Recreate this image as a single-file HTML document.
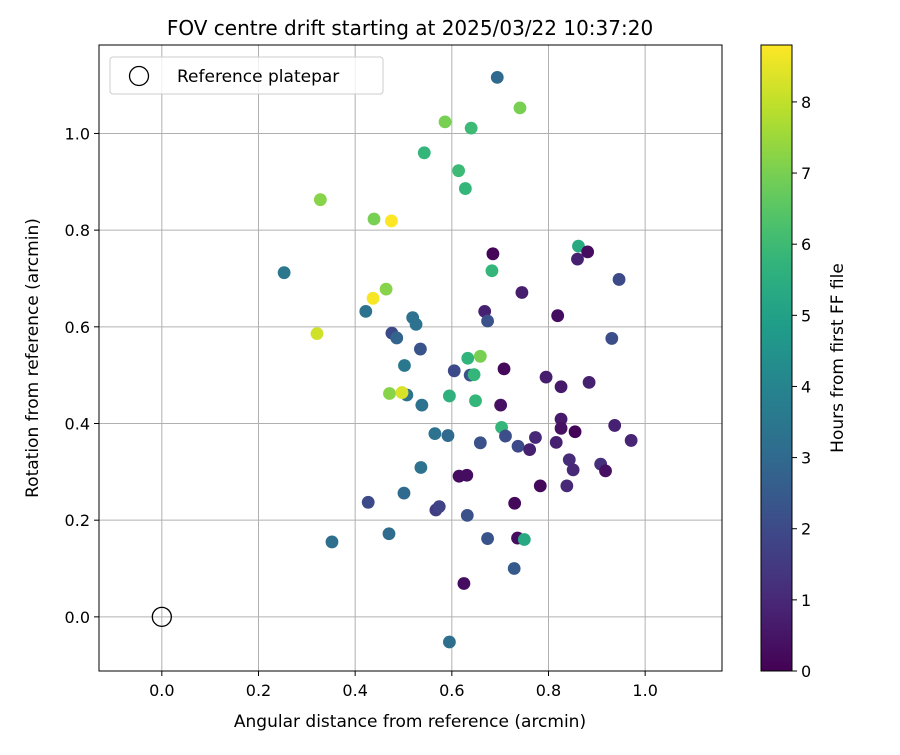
<!DOCTYPE html>
<html><head><meta charset="utf-8"><style>
body{margin:0;background:#fff;font-family:"Liberation Sans","DejaVu Sans",sans-serif}
svg text{font-family:"DejaVu Sans","Liberation Sans",sans-serif;fill:#000}
</style></head><body>
<svg id="chart" width="900" height="750" xmlns="http://www.w3.org/2000/svg"></svg>
<script>
const xs=[0.694,0.741,0.586,0.640,0.543,0.614,0.628,0.328,0.439,0.475,0.685,0.862,0.881,0.860,0.253,0.683,0.946,0.464,0.745,0.437,0.422,0.668,0.819,0.519,0.674,0.526,0.321,0.476,0.486,0.931,0.535,0.633,0.659,0.502,0.605,0.708,0.795,0.638,0.646,0.826,0.884,0.471,0.507,0.497,0.595,0.649,0.701,0.538,0.826,0.826,0.855,0.937,0.971,0.703,0.565,0.592,0.711,0.773,0.659,0.737,0.761,0.816,0.536,0.843,0.851,0.908,0.918,0.615,0.631,0.501,0.783,0.838,0.427,0.567,0.574,0.632,0.730,0.470,0.352,0.674,0.736,0.750,0.729,0.625,0.595];
const ys=[1.116,1.053,1.024,1.011,0.960,0.923,0.886,0.863,0.823,0.819,0.751,0.767,0.755,0.740,0.712,0.716,0.698,0.678,0.671,0.659,0.632,0.632,0.623,0.619,0.612,0.605,0.586,0.587,0.577,0.576,0.554,0.535,0.539,0.520,0.509,0.513,0.496,0.500,0.501,0.476,0.485,0.462,0.459,0.464,0.457,0.447,0.438,0.438,0.409,0.390,0.383,0.396,0.365,0.392,0.379,0.375,0.374,0.371,0.360,0.353,0.346,0.361,0.309,0.325,0.304,0.316,0.302,0.291,0.293,0.256,0.271,0.271,0.237,0.221,0.228,0.210,0.235,0.172,0.155,0.162,0.163,0.160,0.100,0.069,-0.052];
const hours=[3,7,7,6,5.8,6,5.8,7.2,7,8.8,0.1,5.3,0.3,0.8,3.5,5.8,2,7.2,0.7,8.7,3.3,0.8,0.3,3.3,2.2,3.3,8.2,2,2.8,2.1,2.3,5.7,7,3.5,2,0.2,0.7,2.2,5.8,0.6,0.8,7.2,3.3,8.3,5.6,5.8,0.4,3.3,0.6,0.4,0.1,0.8,0.9,5.8,3.3,3,2.1,1,2.2,2,0.8,0.8,3.3,1.1,1,1.2,0.4,0.3,0.3,3,0.2,1,2,1.6,1.8,2.2,0.2,3.1,3.2,2.3,0.3,5.3,2.5,0.3,3.2];
const xTicks=[0.0,0.2,0.4,0.6,0.8,1.0];
const yTicks=[0.0,0.2,0.4,0.6,0.8,1.0];
const cTicks=[0,1,2,3,4,5,6,7,8];
const L=99,R=722,T=45,B=671,X0=-0.130,X1=1.159,Y0=-0.112,Y1=1.183,HMAX=8.8;
const CL=761,CR=792;
const sx=v=>L+(v-X0)/(X1-X0)*(R-L);
const sy=v=>B-(v-Y0)/(Y1-Y0)*(B-T);
const sc=v=>B-v/HMAX*(B-T);
const vir=[[68,1,84],[72,40,120],[62,73,137],[49,104,142],[38,130,142],[31,158,137],[53,183,121],[109,205,89],[180,222,44],[253,231,37]];
function vcol(t){t=Math.max(0,Math.min(1,t))*(vir.length-1);const i=Math.min(Math.floor(t),vir.length-2),f=t-i;const c=vir[i].map((a,k)=>Math.round(a+(vir[i+1][k]-a)*f));return `rgb(${c[0]},${c[1]},${c[2]})`;}
const svg=document.getElementById('chart');const NS='http://www.w3.org/2000/svg';
function el(tag,attrs,parent){const e=document.createElementNS(NS,tag);for(const k in attrs)e.setAttribute(k,attrs[k]);(parent||svg).appendChild(e);return e;}
function txt(s,attrs){const e=el('text',attrs);e.textContent=s;return e;}
xTicks.forEach(v=>{const g=el('line',{x1:sx(v),x2:sx(v),y1:T,y2:B,stroke:'#b0b0b0','stroke-width':1});
 const t=el('line',{x1:sx(v),x2:sx(v),y1:B,y2:B+5,stroke:'#000'});
 const l=txt(v.toFixed(1),{x:sx(v),y:B+25,'font-size':16,'text-anchor':'middle'});});
yTicks.forEach(v=>{const g=el('line',{x1:L,x2:R,y1:sy(v),y2:sy(v),stroke:'#b0b0b0','stroke-width':1});
 const t=el('line',{x1:L-5,x2:L,y1:sy(v),y2:sy(v),stroke:'#000'});
 const l=txt(v.toFixed(1),{x:L-9,y:sy(v)+6,'font-size':16,'text-anchor':'end'});});
xs.forEach((x,i)=>{const c=el('circle',{cx:sx(x),cy:sy(ys[i]),r:6.4,fill:vcol(hours[i]/HMAX)});});
const ref=el('circle',{cx:sx(0),cy:sy(0),r:9.5,fill:'none',stroke:'#000','stroke-width':1.3});
const fr=el('rect',{x:L,y:T,width:R-L,height:B-T,fill:'none',stroke:'#000','stroke-width':1});
const lg=el('rect',{x:110,y:57,width:273,height:37,rx:3,fill:'#fff','fill-opacity':0.8,stroke:'#ccc'});
const lm=el('circle',{cx:139,cy:76,r:9.5,fill:'none',stroke:'#000','stroke-width':1.3});
const lt=txt('Reference platepar',{x:177,y:82,'font-size':17});
const ti=txt('FOV centre drift starting at 2025/03/22 10:37:20',{x:410,y:35,'font-size':20,'text-anchor':'middle'});
const xt=txt('Angular distance from reference (arcmin)',{x:410,y:727,'font-size':17,'text-anchor':'middle'});
const yt=txt('Rotation from reference (arcmin)',{x:0,y:0,'font-size':17,'text-anchor':'middle',transform:`translate(38,358) rotate(-90)`});
const defs=el('defs',{});const gr=el('linearGradient',{id:'vg',x1:0,y1:1,x2:0,y2:0},defs);
for(let k=0;k<=20;k++){el('stop',{offset:k/20,'stop-color':vcol(k/20)},gr);}
const cb=el('rect',{x:CL,y:T,width:CR-CL,height:B-T,fill:'url(#vg)',stroke:'#000','stroke-width':1});
cTicks.forEach(v=>{const t=el('line',{x1:CR,x2:CR+5,y1:sc(v),y2:sc(v),stroke:'#000'});
 const l=txt(String(v),{x:CR+9,y:sc(v)+6,'font-size':16});});
const ct=txt('Hours from first FF file',{x:0,y:0,'font-size':17,'text-anchor':'middle',transform:`translate(843,358) rotate(-90)`});
</script>
</body></html>
